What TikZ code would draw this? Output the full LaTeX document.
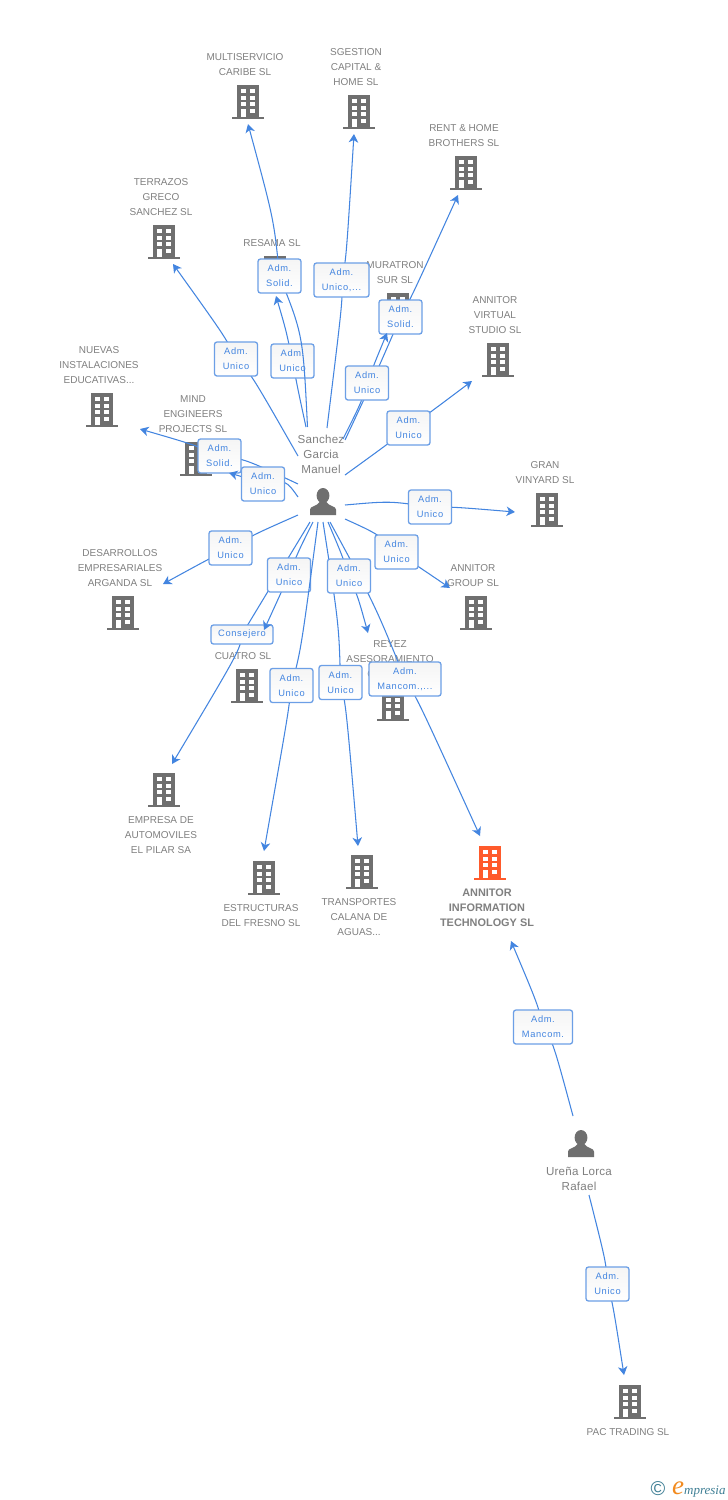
\documentclass[tikz,border=0pt]{standalone}
\usepackage{fontspec}
\setmainfont{Liberation Sans}
\newfontfamily\lblfont[LetterSpace=7]{Liberation Sans}
\newfontfamily\perfont[LetterSpace=2]{Liberation Sans}
\newfontfamily\logofont{Liberation Serif}
\usetikzlibrary{arrows.meta}
\definecolor{bgray}{HTML}{6F6F6F}
\definecolor{tgray}{HTML}{808080}
\definecolor{lblue}{HTML}{4385E0}
\definecolor{bblue}{HTML}{6C9FE6}
\definecolor{hot}{HTML}{FF5A2B}
\definecolor{teal1}{HTML}{3F7F95}
\definecolor{orng}{HTML}{F28A1E}
\tikzset{
  cname/.style={text=tgray,font=\fontsize{10}{15}\selectfont,align=center,inner sep=0pt},
  hotname/.style={text=tgray,font=\fontsize{10.9}{15}\selectfont\bfseries,align=center,inner sep=0pt},
  pname/.style={text=tgray,font=\fontsize{11.6}{15}\selectfont\perfont,align=center,inner sep=0pt},
  labelbox/.style={rectangle,rounded corners=2.5pt,draw=bblue,line width=1.3pt,
    top color=black!4,bottom color=white,text=lblue,
    font=\fontsize{9.3}{15}\selectfont\lblfont,align=center,inner sep=0pt,
    minimum width=#1,minimum height=34pt},
  labelbox/.default=43pt,
  labelspot/.style={rectangle,inner sep=0pt,minimum width=1pt,minimum height=1pt},
  link/.style={draw=lblue,line width=1.05pt},
  arrowlink/.style={link,-{Stealth[length=8.5pt,width=9.5pt,inset=2.5pt]}},
}
% building: name, cx, top, colour
\newcommand\bld[4]{%
  \node[inner sep=0pt,minimum width=32pt,minimum height=34pt] (#1) at (#2,#3+17) {};
  \begin{scope}[shift={(#2,#3)}]
    \fill[#4] (-16,32.2) rectangle (16,34);
    \fill[#4] (-11,0) rectangle (11,33);
    \foreach \y in {4,10.7,17.3}{
      \fill[white] (-7,\y) rectangle (-2.3,\y+4);
      \fill[white] (2.3,\y) rectangle (7,\y+4);}
    \fill[white] (2.3,24) rectangle (7,28);
    \fill[white] (-7,24) rectangle (-2.3,32.2);
  \end{scope}}
% person: name, cx, top
\newcommand\per[3]{%
  \node[inner sep=0pt,minimum width=27pt,minimum height=27pt] (#1) at (#2,#3+13.5) {};
  \begin{scope}[shift={(#2,#3)}]
    \fill[bgray] (0,7.6) ellipse (6.4 and 7.6);
    \fill[bgray] (-13,27) -- (-13,21.5) .. controls (-13,18) and (-6,18.5) .. (-3.5,14)
      -- (3.5,14) .. controls (6,18.5) and (13,18) .. (13,21.5) -- (13,27) -- cycle;
  \end{scope}}
% connector through a label: name,x,y,width,text,start,ctrl1,ctrl2,end
\newcommand\conn[9]{%
  \node[labelspot] (#1) at (#2,#3) {};
  \draw[link] #6 .. controls #7 .. (#1.center);
  \draw[arrowlink] (#1.center) .. controls #8 .. #9;
  \node[labelbox=#4] (#1) at (#2,#3) {#5};}
\begin{document}
\begin{tikzpicture}[x=1pt,y=-1pt]
\useasboundingbox (0,0) rectangle (728,1500);
\fill[white] (0,0) rectangle (728,1500);

% buildings
\bld{b1}{248}{85}{bgray}
\bld{b2}{359}{95}{bgray}
\bld{b3}{466}{156}{bgray}
\bld{b4}{164}{225}{bgray}
\bld{b5}{275}{256}{bgray}
\bld{b6}{398}{293}{bgray}
\bld{b7}{498}{343}{bgray}
\bld{b8}{102}{393}{bgray}
\bld{b9}{196}{442}{bgray}
\bld{b10}{547}{493}{bgray}
\bld{b11}{123}{596}{bgray}
\bld{b12}{476}{596}{bgray}
\bld{b13}{247}{669}{bgray}
\bld{b14}{393}{687}{bgray}
\bld{b15}{164}{773}{bgray}
\bld{b16}{264}{861}{bgray}
\bld{b17}{362}{855}{bgray}
\bld{b18}{490}{846}{hot}
\bld{b19}{630}{1385}{bgray}

% persons
\per{p1}{323}{488}
\per{p2}{581}{1130}

% company names
\node[cname,anchor=north] (n1) at (245,53) {MULTISERVICIO\\CARIBE SL};
\node[cname,anchor=north] (n2) at (356,48) {SGESTION\\CAPITAL \&\\HOME SL};
\node[cname,anchor=north] (n3) at (464,124) {RENT \& HOME\\BROTHERS SL};
\node[cname,anchor=north] (n4) at (161,178) {TERRAZOS\\GRECO\\SANCHEZ SL};
\node[cname,anchor=north] (n5) at (272,239) {RESAMA SL};
\node[cname,anchor=north] (n6) at (395,261) {MURATRON\\SUR SL};
\node[cname,anchor=north] (n7) at (495,296) {ANNITOR\\VIRTUAL\\STUDIO SL};
\node[cname,anchor=north] (n8) at (99,346) {NUEVAS\\INSTALACIONES\\EDUCATIVAS...};
\node[cname,anchor=north] (n9) at (193,395) {MIND\\ENGINEERS\\PROJECTS SL};
\node[cname,anchor=north] (n10) at (545,461) {GRAN\\VINYARD SL};
\node[cname,anchor=north] (n11) at (120,549) {DESARROLLOS\\EMPRESARIALES\\ARGANDA SL};
\node[cname,anchor=north] (n12) at (473,564) {ANNITOR\\GROUP SL};
\node[cname,anchor=north] (n13) at (243,652) {CUATRO SL};
\node[cname,anchor=north] (n14) at (390,640) {REYEZ\\ASESORAMIENTO};
\node[cname,anchor=north] (n14b) at (371,670) {C};
\node[cname,anchor=north] (n15) at (161,816) {EMPRESA DE\\AUTOMOVILES\\EL PILAR SA};
\node[cname,anchor=north] (n16) at (261,904) {ESTRUCTURAS\\DEL FRESNO SL};
\node[cname,anchor=north] (n17) at (359,898) {TRANSPORTES\\CALANA DE\\AGUAS...};
\node[hotname,anchor=north] (n18) at (487,888.5) {ANNITOR\\INFORMATION\\TECHNOLOGY SL};
\node[cname,anchor=north] (n19) at (628,1428) {PAC TRADING SL};
\node[pname,anchor=north] (t1) at (321,435) {Sanchez\\Garcia\\Manuel};
\node[pname,anchor=north] (t2) at (579,1167) {Ureña Lorca\\Rafael};

% free ends of the connectors, next to the persons
\coordinate (s4) at (298,456);
\coordinate (s5) at (306,427);
\coordinate (s1) at (307.5,427);
\coordinate (s2) at (327,428);
\coordinate (s6) at (343,439);
\coordinate (s3) at (345,440);
\coordinate (s7) at (345,475);
\coordinate (s8) at (298,484);
\coordinate (s9) at (298,497);
\coordinate (s10) at (345,505);
\coordinate (s11) at (345,519);
\coordinate (s12) at (298,515);
\coordinate (s13) at (313,522);
\coordinate (s14) at (310,522);
\coordinate (s15) at (318,522);
\coordinate (s16) at (323,522);
\coordinate (s17) at (328,522);
\coordinate (s18) at (330,522);
\coordinate (s19) at (573,1116);
\coordinate (s20) at (589,1195);
% arrow tips
\coordinate (e1) at (248,124);
\coordinate (e2) at (354,134);
\coordinate (e3) at (458,195);
\coordinate (e4) at (173,264);
\coordinate (e5) at (276,296);
\coordinate (e6) at (387,333);
\coordinate (e7) at (472,381);
\coordinate (e8) at (140,429);
\coordinate (e9) at (229,473);
\coordinate (e10) at (515,512);
\coordinate (e11) at (450,588);
\coordinate (e12) at (163,584);
\coordinate (e13) at (264,630);
\coordinate (e14) at (172,764);
\coordinate (e15) at (264,851);
\coordinate (e16) at (358,846);
\coordinate (e17) at (368,633);
\coordinate (e18) at (480,836);
\coordinate (e19) at (511,941);
\coordinate (e20) at (624,1375);

% connectors and their labels
\conn{l4}{236}{359}{43pt}{Adm.\\Unico}{(s4)}{(250,372)}{(226,338)}{(e4)}
\conn{l5}{292.5}{361}{43pt}{Adm.\\Unico}{(s5)}{(298,390)}{(286,330)}{(e5)}
\conn{l1}{279.5}{276}{43pt}{Adm.\\Solid.}{(s1)}{(303,335)}{(274,220)}{(e1)}
\conn{l2}{341.5}{280}{55pt}{Adm.\\Unico,...}{(s2)}{(343,298)}{(346,262)}{(e2)}
\conn{l3}{400.5}{317}{43pt}{Adm.\\Solid.}{(s3)}{(374,378)}{(412,296)}{(e3)}
\conn{l6}{367}{383}{43pt}{Adm.\\Unico}{(s6)}{(362,401)}{(375,362)}{(e6)}
\conn{l7}{408.5}{428}{43pt}{Adm.\\Unico}{(s7)}{(385,446)}{(432,411)}{(e7)}
\conn{l8}{219.5}{456}{43pt}{Adm.\\Solid.}{(s8)}{(245,459)}{(195,445)}{(e8)}
\conn{l9}{263}{484}{43pt}{Adm.\\Unico}{(s9)}{(286,480)}{(240,476)}{(e9)}
\conn{l10}{430}{507}{43pt}{Adm.\\Unico}{(s10)}{(390,501)}{(455,507)}{(e10)}
\conn{l11}{396.5}{552}{43pt}{Adm.\\Unico}{(s11)}{(378,534)}{(422,569)}{(e11)}
\conn{l12}{230.5}{548}{43pt}{Adm.\\Unico}{(s12)}{(255,534)}{(205,561)}{(e12)}
\conn{l14}{242}{634.5}{62pt,minimum height=19pt}{Consejero}{(s14)}{(247,626)}{(240,650)}{(e14)}
\conn{l13}{289}{575}{43pt}{Adm.\\Unico}{(s13)}{(298,552)}{(280,595)}{(e13)}
\conn{l15}{291.5}{685.5}{43pt}{Adm.\\Unico}{(s15)}{(301,650)}{(288,715)}{(e15)}
\conn{l16}{340.5}{682.5}{43pt}{Adm.\\Unico}{(s16)}{(339,625)}{(346,705)}{(e16)}
\conn{l18}{405}{679}{72pt}{Adm.\\Mancom.,...}{(s18)}{(375,605)}{(418,700)}{(e18)}
\conn{l17}{349}{576}{43pt}{Adm.\\Unico}{(s17)}{(342,555)}{(358,597)}{(e17)}
\conn{l19}{543}{1027}{59pt}{Adm.\\Mancom.}{(s19)}{(553,1042)}{(538,1005)}{(e19)}
\conn{l20}{607.5}{1284}{43pt}{Adm.\\Unico}{(s20)}{(606,1262)}{(613,1305)}{(e20)}

% logo
\node[inner sep=0pt,text=teal1,font=\fontsize{20}{20}\selectfont] (c1) at (658,1489) {©};
\node[inner sep=0pt,anchor=base west,text=orng,font=\fontsize{27}{27}\selectfont\logofont\itshape] (e0) at (672,1494) {e};
\node[inner sep=0pt,anchor=base west,text=teal1,font=\fontsize{13}{14}\selectfont\logofont\itshape] (e00) at (684,1494) {mpresia};
\end{tikzpicture}
\end{document}
